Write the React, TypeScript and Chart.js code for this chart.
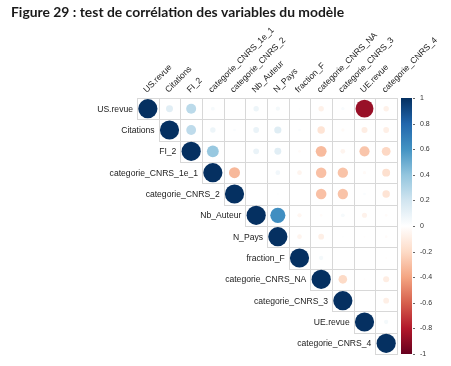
import React, { useEffect, useRef } from "react";
import { Chart, registerables } from "chart.js";
Chart.register(...registerables);

const titleText = "Figure 29 : test de corrélation des variables du modèle";

const variables = [
  "US.revue",
  "Citations",
  "FI_2",
  "categorie_CNRS_1e_1",
  "categorie_CNRS_2",
  "Nb_Auteur",
  "N_Pays",
  "fraction_F",
  "categorie_CNRS_NA",
  "categorie_CNRS_3",
  "UE.revue",
  "categorie_CNRS_4",
];

// Upper-triangle rows: each starts at the diagonal cell
const rowUSrevue = [1, 0.13, 0.27, 0.04, 0.0, 0.08, 0.05, 0.01, -0.08, 0.03, -0.87, -0.08];
const rowCitations = [1, 0.26, 0.08, 0.02, 0.09, 0.14, 0.02, -0.15, -0.03, -0.1, -0.09];
const rowFI2 = [1, 0.38, 0.0, 0.09, 0.13, -0.02, -0.32, -0.06, -0.28, -0.21];
const rowCNRS1e1 = [1, -0.33, 0.0, 0.06, -0.06, -0.3, -0.29, -0.03, -0.17];
const rowCNRS2 = [1, 0.0, 0.01, 0.0, -0.3, -0.29, 0.02, -0.15];
const rowNbAuteur = [1, 0.62, -0.05, -0.02, 0.04, -0.07, -0.02];
const rowNPays = [1, -0.06, -0.09, 0.01, -0.01, -0.02];
const rowFractionF = [1, 0.05, 0.0, 0.0, -0.01];
const rowCNRSNA = [1, -0.2, -0.01, -0.1];
const rowCNRS3 = [1, 0.0, -0.09];
const rowUErevue = [1, 0.05];
const rowCNRS4 = [1];

const colorbarTicks = [1, 0.8, 0.6, 0.4, 0.2, 0, -0.2, -0.4, -0.6, -0.8, -1];

const palette = [
  "#67001F", "#B2182B", "#D6604D", "#F4A582", "#FDDBC7", "#FFFFFF",
  "#D1E5F0", "#92C5DE", "#4393C3", "#2166AC", "#053061",
];

function hexToRgb(h: string) {
  return [parseInt(h.slice(1, 3), 16), parseInt(h.slice(3, 5), 16), parseInt(h.slice(5, 7), 16)];
}

function colorFor(v: number) {
  const t = ((v + 1) / 2) * (palette.length - 1);
  const i = Math.max(0, Math.min(palette.length - 2, Math.floor(t)));
  const f = t - i;
  const a = hexToRgb(palette[i]);
  const b = hexToRgb(palette[i + 1]);
  const c = a.map((x, k) => Math.round(x + (b[k] - x) * f));
  return `rgb(${c[0]},${c[1]},${c[2]})`;
}

const rows = [
  rowUSrevue, rowCitations, rowFI2, rowCNRS1e1, rowCNRS2, rowNbAuteur,
  rowNPays, rowFractionF, rowCNRSNA, rowCNRS3, rowUErevue, rowCNRS4,
];

const LABEL_FONT = "8.6px 'Liberation Sans', Arial, sans-serif";

const corrPlugin = {
  id: "corrDecor",
  beforeDatasetsDraw(chart: any) {
    const { ctx, scales } = chart;
    const xs = scales.x;
    const ys = scales.y;
    const n = variables.length;
    ctx.save();
    ctx.strokeStyle = "#d8d8d8";
    ctx.lineWidth = 1;
    for (let i = 0; i < n; i++) {
      for (let j = i; j < n; j++) {
        const x0 = xs.getPixelForValue(j - 0.5);
        const x1 = xs.getPixelForValue(j + 0.5);
        const y0 = ys.getPixelForValue(i - 0.5);
        const y1 = ys.getPixelForValue(i + 0.5);
        ctx.strokeRect(Math.round(x0) + 0.5, Math.round(y0) + 0.5, Math.round(x1) - Math.round(x0), Math.round(y1) - Math.round(y0));
      }
    }
    ctx.restore();
  },
  afterDraw(chart: any) {
    const { ctx, scales, chartArea } = chart;
    const xs = scales.x;
    const ys = scales.y;
    const n = variables.length;
    ctx.save();
    // title
    ctx.fillStyle = "#1a1a1a";
    ctx.font = "bold 13.9px Lato, 'Open Sans', sans-serif";
    ctx.textAlign = "left";
    ctx.textBaseline = "alphabetic";
    ctx.fillText(titleText, 11, 17);

    // row labels (left of diagonal)
    ctx.font = LABEL_FONT;
    ctx.fillStyle = "#222";
    ctx.textAlign = "right";
    ctx.textBaseline = "middle";
    for (let i = 0; i < n; i++) {
      const x = xs.getPixelForValue(i - 0.5) - 4;
      const y = ys.getPixelForValue(i);
      ctx.fillText(variables[i], x, y + 0.5);
    }
    // column labels rotated
    ctx.textAlign = "left";
    ctx.textBaseline = "alphabetic";
    for (let j = 0; j < n; j++) {
      const x = xs.getPixelForValue(j) - 1;
      const y = chartArea.top - 5;
      ctx.save();
      ctx.translate(x, y);
      ctx.rotate(-Math.PI / 4);
      ctx.fillText(variables[j], 0, 0);
      ctx.restore();
    }
    // color bar
    const bx0 = chartArea.right + 4;
    const bw = 11;
    const top = ys.getPixelForValue(-0.5);
    const bottom = ys.getPixelForValue(n - 0.5);
    const grad = ctx.createLinearGradient(0, top, 0, bottom);
    for (let k = 0; k < palette.length; k++) {
      grad.addColorStop(k / (palette.length - 1), palette[palette.length - 1 - k]);
    }
    ctx.fillStyle = grad;
    ctx.fillRect(bx0, top, bw, bottom - top);
    ctx.font = "7px 'Liberation Sans', Arial, sans-serif";
    ctx.fillStyle = "#333";
    ctx.strokeStyle = "#666";
    ctx.textAlign = "left";
    ctx.textBaseline = "middle";
    colorbarTicks.forEach((t) => {
      const y = top + ((1 - t) / 2) * (bottom - top);
      ctx.beginPath();
      ctx.moveTo(bx0 + bw + 1, Math.round(y) + 0.5);
      ctx.lineTo(bx0 + bw + 3, Math.round(y) + 0.5);
      ctx.stroke();
      ctx.fillText(String(t), bx0 + bw + 8, y);
    });
    ctx.restore();
  },
};

export default function App() {
  const ref = useRef<HTMLCanvasElement>(null);
  useEffect(() => {
    document.body.style.margin = "0";
    const data = rows.flatMap((row, i) => row.map((v, k) => ({ x: i + k, y: i, v })));
    const cellSize = (chart: any) => {
      const xs = chart.scales.x;
      const ys = chart.scales.y;
      const cw = Math.abs(xs.getPixelForValue(1) - xs.getPixelForValue(0));
      const ch = Math.abs(ys.getPixelForValue(1) - ys.getPixelForValue(0));
      return Math.min(cw, ch);
    };
    const chart = new Chart(ref.current!, {
      type: "scatter",
      data: {
        datasets: [
          {
            data: data as any,
            pointRadius: (c: any) => {
              const v = c.raw ? c.raw.v : 0;
              return 0.45 * Math.sqrt(Math.abs(v)) * cellSize(c.chart);
            },
            backgroundColor: (c: any) => colorFor(c.raw ? c.raw.v : 0),
            borderColor: (c: any) => colorFor(c.raw ? c.raw.v : 0),
            borderWidth: 0,
          },
        ],
      },
      options: {
        animation: false,
        responsive: false,
        events: [],
        layout: { padding: { left: 137, top: 98, right: 54, bottom: 12 } },
        plugins: { legend: { display: false }, tooltip: { enabled: false } },
        scales: {
          x: { type: "linear", min: -0.5, max: 11.5, display: false },
          y: { type: "linear", min: -0.5, max: 11.5, reverse: true, display: false },
        },
      },
      plugins: [corrPlugin],
    });
    return () => chart.destroy();
  }, []);
  return (
    <div style={{ width: 451, height: 366 }}>
      <canvas ref={ref} width={451} height={366} style={{ display: "block" }} />
    </div>
  );
}
